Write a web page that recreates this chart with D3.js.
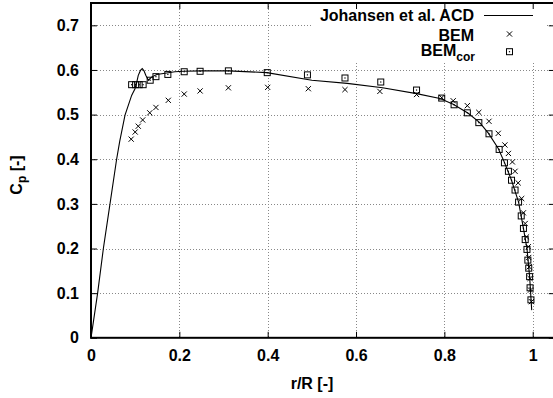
<!DOCTYPE html>
<html><head><meta charset="utf-8">
<script src="https://cdn.jsdelivr.net/npm/d3@7"></script>
<style>
html,body{margin:0;padding:0;background:#fff;}
svg{display:block;}
text{font-family:"Liberation Sans",Arial,Helvetica,sans-serif;font-weight:bold;fill:#000;}
</style>
</head><body>
<svg id="chart" width="553" height="398"></svg>
<script>
// ---- data ----
const acdR  = [0,0.015,0.028,0.043,0.058,0.065,0.077,0.092,0.0996,0.103,0.107,0.112,0.116,0.12,0.124,0.130,0.137,0.149,0.19,0.209,0.25,0.311,0.398,0.5,0.58,0.66,0.737,0.79,0.82,0.854,0.88,0.9,0.922,0.936,0.952,0.968,0.979,0.987,0.993,0.9977];
const acdCp = [0,0.1,0.2,0.3,0.4,0.44,0.499,0.543,0.558,0.57,0.588,0.599,0.603,0.598,0.588,0.577,0.584,0.590,0.596,0.597,0.598,0.598,0.594,0.577,0.570,0.560,0.547,0.536,0.523,0.503,0.482,0.458,0.424,0.393,0.353,0.304,0.245,0.2,0.137,0.062];

const bemR  = [0.091,0.100,0.107,0.117,0.133,0.147,0.175,0.211,0.247,0.311,0.400,0.492,0.575,0.654,0.737,0.794,0.820,0.852,0.878,0.901,0.922,0.937,0.945,0.954,0.960,0.967,0.975,0.979,0.983,0.986,0.990,0.991,0.992,0.994,0.995,0.997];
const bemCp = [0.445,0.461,0.474,0.488,0.504,0.516,0.532,0.546,0.553,0.560,0.561,0.558,0.556,0.552,0.545,0.538,0.531,0.520,0.505,0.485,0.458,0.432,0.413,0.394,0.373,0.347,0.312,0.280,0.256,0.226,0.204,0.180,0.159,0.133,0.107,0.081];

const corR  = [0.092,0.101,0.109,0.118,0.134,0.147,0.174,0.211,0.247,0.311,0.399,0.490,0.575,0.656,0.737,0.794,0.822,0.852,0.878,0.901,0.924,0.936,0.945,0.952,0.960,0.968,0.974,0.979,0.983,0.987,0.989,0.991,0.993,0.994,0.996];
const corCp = [0.567,0.567,0.567,0.567,0.577,0.585,0.590,0.596,0.597,0.598,0.594,0.589,0.582,0.573,0.555,0.537,0.522,0.504,0.482,0.457,0.422,0.392,0.373,0.353,0.331,0.304,0.273,0.245,0.220,0.198,0.174,0.156,0.137,0.112,0.085];

const xTicks = [0,0.2,0.4,0.6,0.8,1];
const xTickLabels = ["0","0.2","0.4","0.6","0.8","1"];
const yTicks = [0,0.1,0.2,0.3,0.4,0.5,0.6,0.7];
const yTickLabels = ["0","0.1","0.2","0.3","0.4","0.5","0.6","0.7"];
const legendLabels = ["Johansen et al. ACD","BEM","BEM"];

// ---- layout ----
const L = 91, R = 554.8, T = 3, B = 337.8;
const x = d3.scaleLinear().domain([0,1.05]).range([L,R]);
const y = d3.scaleLinear().domain([0,0.75]).range([B,T]);
const svg = d3.select("#chart");

// grid
const grid = svg.append("g").attr("stroke","#888").attr("stroke-width",1).attr("stroke-dasharray","1,2");
grid.selectAll("line.v").data(xTicks.filter(d=>d>0)).enter().append("line")
  .attr("x1",d=>Math.round(x(d))+0.5).attr("x2",d=>Math.round(x(d))+0.5).attr("y1",T).attr("y2",B);
grid.selectAll("line.h").data(yTicks.filter(d=>d>0)).enter().append("line")
  .attr("y1",d=>Math.round(y(d))+0.5).attr("y2",d=>Math.round(y(d))+0.5).attr("x1",L).attr("x2",R);

// legend background
svg.append("rect").attr("x",313).attr("y",T).attr("width",232).attr("height",58).attr("fill","#fff");

// ACD line
const line = d3.line().x((d,i)=>x(acdR[i])).y((d,i)=>y(acdCp[i]));
svg.append("path").attr("d",line(acdR)).attr("fill","none").attr("stroke","#000").attr("stroke-width",1.1);

// BEM crosses
function crossPath(cx,cy,s){return `M${cx-s},${cy-s}L${cx+s},${cy+s}M${cx-s},${cy+s}L${cx+s},${cy-s}`;}
svg.append("g").selectAll("path").data(bemR).enter().append("path")
  .attr("d",(d,i)=>crossPath(x(d),y(bemCp[i]),2.6))
  .attr("stroke","#000").attr("stroke-width",1).attr("fill","none");

// BEMcor squares with centre dot
const sq = svg.append("g");
function drawSquare(g,cx,cy){
  g.append("rect").attr("x",cx-3).attr("y",cy-3).attr("width",6).attr("height",6)
    .attr("fill","none").attr("stroke","#000").attr("stroke-width",1);
  g.append("rect").attr("x",cx-0.6).attr("y",cy-0.6).attr("width",1.2).attr("height",1.2).attr("fill","#000");
}
corR.forEach((d,i)=>drawSquare(sq,x(d),y(corCp[i])));

// axes (inward ticks, mirrored)
const fs = 16;
const axB = svg.append("g").attr("transform",`translate(0,${B})`)
  .call(d3.axisBottom(x).tickValues(xTicks).tickSize(-6).tickPadding(12).tickFormat((d,i)=>xTickLabels[i]));
const axL = svg.append("g").attr("transform",`translate(${L},0)`)
  .call(d3.axisLeft(y).tickValues(yTicks).tickSize(-6).tickPadding(12).tickFormat((d,i)=>yTickLabels[i]));
const axT = svg.append("g").attr("transform",`translate(0,${T})`)
  .call(d3.axisTop(x).tickValues(xTicks).tickSize(-6).tickFormat(""));
const axR = svg.append("g").attr("transform",`translate(${R},0)`)
  .call(d3.axisRight(y).tickValues(yTicks).tickSize(-6).tickFormat(""));
[axB,axL,axT,axR].forEach(a=>{
  a.select(".domain").remove();
  a.selectAll(".tick line").attr("stroke","#000").attr("stroke-width",1);
  a.selectAll("text").attr("font-size",fs).attr("font-family","Liberation Sans, Arial, sans-serif").attr("font-weight","bold").attr("fill","#000");
});

// frame
svg.append("rect").attr("x",L).attr("y",T).attr("width",R-L).attr("height",B-T)
  .attr("fill","none").attr("stroke","#000").attr("stroke-width",2);

// legend
const lx = 474;
svg.append("text").attr("x",lx).attr("y",21).attr("text-anchor","end").attr("font-size",fs).text(legendLabels[0]);
svg.append("line").attr("x1",484).attr("x2",533).attr("y1",15.5).attr("y2",15.5).attr("stroke","#000").attr("stroke-width",1);
svg.append("text").attr("x",lx).attr("y",40.5).attr("text-anchor","end").attr("font-size",fs).text(legendLabels[1]);
svg.append("path").attr("d",crossPath(509.5,34,2.6)).attr("stroke","#000").attr("stroke-width",1);
const t3 = svg.append("text").attr("x",lx+1).attr("y",56).attr("text-anchor","end").attr("font-size",fs);
t3.append("tspan").text(legendLabels[2]);
t3.append("tspan").attr("font-size",12).attr("dy",5).text("cor");
drawSquare(svg,509.5,51.7);

// axis titles
svg.append("text").attr("x",312).attr("y",389).attr("text-anchor","middle").attr("font-size",fs).text("r/R [-]");
const yl = svg.append("text").attr("transform","translate(22,175) rotate(-90)").attr("text-anchor","middle").attr("font-size",fs);
yl.append("tspan").text("C");
yl.append("tspan").attr("font-size",12).attr("dy",4).text("p");
yl.append("tspan").attr("dy",-4).text(" [-]");
</script>
</body></html>
